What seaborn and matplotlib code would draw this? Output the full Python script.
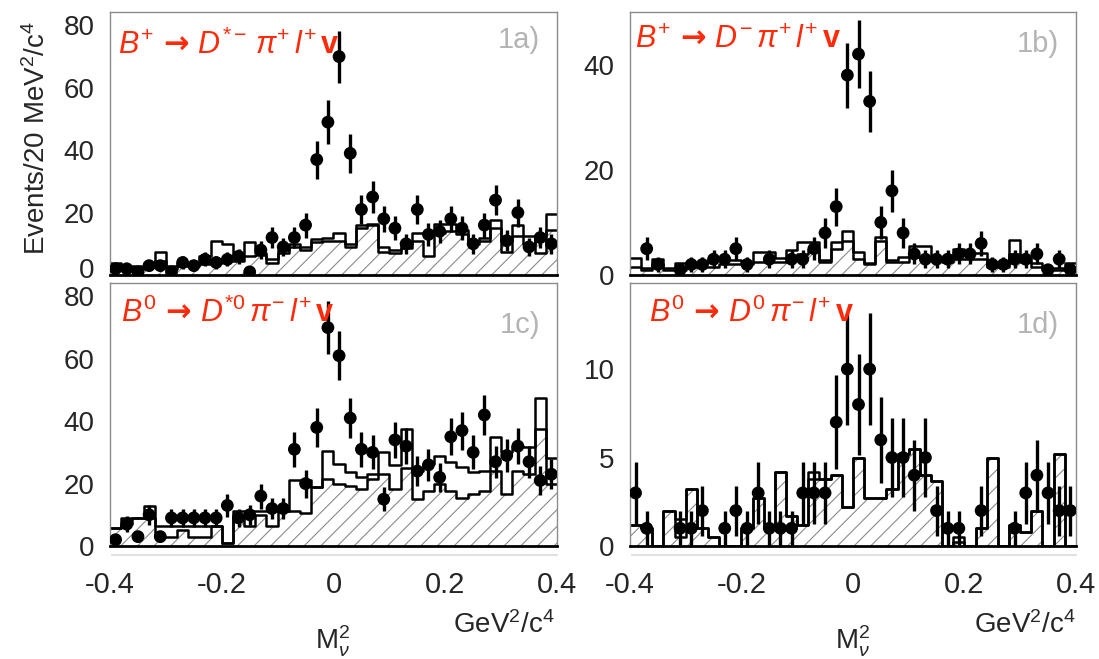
import numpy as np
import pandas as pd
import matplotlib
matplotlib.use("Agg")
import matplotlib.pyplot as plt
import matplotlib.transforms as mtransforms
import seaborn as sns
from matplotlib.ticker import MultipleLocator, FixedLocator

# binning of M_nu^2 (GeV^2/c^4)
x_lo, x_hi, n_bins = -0.4, 0.4, 40

# panel 1a : B+ -> D*- pi+ l+ nu
data_a = [2, 2, 1, 3, 3, 1, 4, 3, 5, 4, 5, 6, 1, 8, 12, 9, 12, 16, 37, 49,
          70, 39, 21, 25, 18, 15, 10, 21, 13, 14, 18, 15, 10, 16, 24, 11, 20, 9, 12, 10]
open_a = [4, 3, 3, 4, 7.5, 3, 4, 4, 6, 11, 10, 6.5, 10.5, 7, 5, 8, 10, 9, 11.5, 12,
          13.5, 10, 16, 16.5, 9, 8, 10, 13.5, 13, 16.5, 16.5, 14.5, 11, 12, 17.5, 7.5, 16, 12.5, 7, 19.5]
hatch_a = [2.5, 2.5, 2, 2.5, 4.5, 2, 3, 3, 3.5, 4, 4.5, 4.5, 6, 6.5, 4, 7, 9, 8, 10.5, 11,
           11, 9, 15, 16, 7.5, 7, 8.5, 11, 6, 13.5, 14, 13, 10, 11, 15, 11, 12.5, 10, 12.5, 14.5]

# panel 1b : B+ -> D- pi+ l+ nu
data_b = [0, 5, 2, 0, 1, 2, 2, 3, 3, 5, 2, 0, 3, 0, 3, 3, 5, 8, 13, 38,
          42, 33, 10, 16, 8, 4, 3, 3, 3, 4, 4, 6, 2, 2, 3, 3, 4, 1, 3, 1]
open_b = [3.2, 1.3, 3, 1.3, 2.3, 2.3, 2.3, 2.9, 2.9, 2.9, 2.3, 4.4, 4.4, 3.2, 4.8, 6.2, 6.3, 2.9, 6.3, 8.3,
          4.4, 2.3, 7.3, 2.9, 3.5, 5.5, 5.5, 3.5, 3.2, 4.9, 4.1, 4.1, 1.9, 1.9, 6.7, 3.2, 2.2, 1.3, 1.3, 2.3]
hatch_b = [1.5, 1, 2, 1, 1, 1.5, 1.5, 1.5, 2, 2, 2, 2.5, 2.5, 2.5, 3, 4, 5, 2.5, 5, 6.5,
           3, 2, 6.5, 2.5, 2.5, 3.5, 3.5, 3, 2.5, 3, 3, 3, 1.5, 1.5, 4, 2.5, 1.5, 1, 1, 1.5]

# panel 1c : B0 -> D*0 pi- l+ nu
data_c = [2, 7, 3, 10, 3, 9, 9, 9, 9, 9, 13, 9, 10, 16, 12, 12, 31, 20, 38, 70,
          61, 41, 31, 30, 15, 34, 32, 24, 26, 22, 35, 37, 30, 42, 27, 29, 32, 27, 21, 23]
open_c = [5.7, 9.1, 9.1, 12.7, 6.4, 6.4, 6.4, 6.4, 6.4, 6.4, 1.1, 11.3, 11.3, 11.3, 11.3, 11.3, 21.3, 21.3, 18.8, 30.6,
          26.3, 23.6, 22, 23, 30, 25.8, 37.6, 24, 26.3, 29, 26.9, 25.2, 23.6, 24, 34.9, 30, 32.2, 31.7, 47.5, 28.2]
hatch_c = [5.7, 7, 9.1, 9.1, 3, 3, 5, 3, 3, 6.4, 1.1, 10, 6.4, 10, 6.4, 11.3, 11.3, 10.7, 18.8, 21.5,
           19.8, 19.3, 18.2, 21.5, 23, 18.2, 25, 15, 17.7, 19.8, 17.7, 15.5, 16.6, 17.7, 24, 16.6, 24, 23, 37.6, 19.8]

# panel 1d : B0 -> D0 pi- l+ nu
data_d = [3, 1, 0, 0, 1, 1, 2, 0, 1, 2, 1, 3, 1, 1, 1, 3, 3, 3, 7, 10,
          8, 10, 6, 5, 5, 4, 5, 2, 1, 1, 0, 2, 0, 0, 1, 3, 4, 3, 2, 2]
open_d = [1.2, 1, 0, 2, 1.5, 3.2, 1, 0.5, 0, 0, 1, 2.7, 1, 4.2, 1.7, 1.2, 4.2, 3.8, 4, 2.2,
          5, 2.7, 2.7, 3.2, 5.2, 5.5, 4, 3.7, 0, 0.5, 0, 1, 5, 0, 1.2, 0.8, 2, 0, 5.2, 0]
hatch_d = [1.2, 1, 0, 2, 0.5, 3.2, 1, 0.5, 0, 0, 1, 2.7, 1, 4.2, 1.7, 1.2, 3.8, 3.8, 4, 2.2,
           5, 2.7, 2.7, 3.2, 5.2, 5.5, 4, 3.7, 0, 0.2, 0, 1, 5, 0, 1.2, 0.8, 2, 0, 5.2, 0]

decays = [r"$B^{+}\/\mathsf{\rightarrow}\/D^{*-}\,\pi^{+}\,l^{+}\,\mathbf{v}$",
          r"$B^{+}\/\mathsf{\rightarrow}\/D^{-}\,\pi^{+}\,l^{+}\,\mathbf{v}$",
          r"$B^{0}\/\mathsf{\rightarrow}\/D^{*0}\,\pi^{-}\,l^{+}\,\mathbf{v}$",
          r"$B^{0}\/\mathsf{\rightarrow}\/D^{0}\,\pi^{-}\,l^{+}\,\mathbf{v}$"]
tags = ["1a)", "1b)", "1c)", "1d)"]
y_max = [84.3, 50, 84.3, 14.87]
y_major = [20, 20, 20, 5]
y_minor = [5, 5, 5, 1]

sns.set_style("white")
plt.rcParams["font.family"] = ["Liberation Sans", "DejaVu Sans"]
plt.rcParams["mathtext.fontset"] = "custom"
plt.rcParams["mathtext.rm"] = "Liberation Sans"
plt.rcParams["mathtext.it"] = "Liberation Sans:italic"
plt.rcParams["mathtext.bf"] = "Liberation Sans:bold"
plt.rcParams["mathtext.sf"] = "DejaVu Sans:bold"
plt.rcParams["hatch.color"] = "#8a8a8a"
plt.rcParams["hatch.linewidth"] = 0.8

edges = np.linspace(x_lo, x_hi, n_bins + 1)
centers = 0.5 * (edges[:-1] + edges[1:])

fig = plt.figure(figsize=(10.99, 6.59), dpi=100)
rects = [[0.1001, 0.5827, 0.4067, 0.3991],
         [0.5732, 0.5827, 0.4058, 0.3991],
         [0.1001, 0.1715, 0.4067, 0.3991],
         [0.5732, 0.1715, 0.4058, 0.3991]]

all_data = [data_a, data_b, data_c, data_d]
all_open = [open_a, open_b, open_c, open_d]
all_hatch = [hatch_a, hatch_b, hatch_c, hatch_d]
decay_pos = [(0.018, 0.875), (0.011, 0.895), (0.025, 0.886), (0.042, 0.886)]
tag_pos = [(0.962, 0.894), (0.962, 0.88), (0.962, 0.84), (0.962, 0.84)]

hist_kws = dict(x="m2", bins=n_bins, binrange=(x_lo, x_hi), element="step")
axes = []

for k in range(4):
    ax = fig.add_axes(rects[k])
    axes.append(ax)
    df = pd.DataFrame({"m2": centers, "hatched": all_hatch[k], "open": all_open[k]})
    # hatched histogram
    sns.histplot(data=df, weights="hatched", fill=True, color="#8a8a8a",
                 facecolor="none", edgecolor="#8a8a8a", linewidth=0, hatch="//",
                 ax=ax, **hist_kws)
    sns.histplot(data=df, weights="hatched", fill=False, color="black",
                 linewidth=1.8, ax=ax, **hist_kws)
    # open histogram
    sns.histplot(data=df, weights="open", fill=False, color="black",
                 linewidth=1.8, ax=ax, **hist_kws)

    # data points
    d = np.array(all_data[k], dtype=float)
    m = d > 0
    ax.errorbar(centers[m], d[m], yerr=np.sqrt(d[m]), fmt="none", ecolor="black",
                elinewidth=2.4, capsize=0, zorder=4)
    sns.scatterplot(x=centers[m], y=d[m], color="black", s=85, edgecolor="none",
                    zorder=5, ax=ax)

    ax.set_xlim(x_lo, x_hi)
    ax.set_ylim(0, y_max[k])
    ax.set_xlabel("")
    ax.set_ylabel("")
    ax.yaxis.set_major_locator(MultipleLocator(y_major[k]))
    ax.yaxis.set_minor_locator(MultipleLocator(y_minor[k]))
    ax.xaxis.set_major_locator(FixedLocator([-0.4, -0.2, 0, 0.2, 0.4]))
    ax.xaxis.set_minor_locator(MultipleLocator(0.04))
    ax.tick_params(axis="y", which="major", direction="in", length=16, width=1,
                   color="#888888", labelsize=20, pad=11)
    ax.tick_params(axis="y", which="minor", direction="in", length=8, width=1,
                   color="#888888")
    ax.tick_params(axis="x", which="major", direction="in", length=9, width=1,
                   color="#888888", labelsize=21, pad=18)
    ax.tick_params(axis="x", which="minor", direction="in", length=7, width=1,
                   color="#888888")
    ax.yaxis.set_major_formatter(plt.FuncFormatter(lambda v, p: f"{v:g}"))
    if k < 2:
        ax.tick_params(axis="x", labelbottom=False)
    else:
        ax.xaxis.set_major_formatter(plt.FuncFormatter(lambda v, p: f"{v:g}"))
        ax.plot([0.005, 1.0], [-0.034, -0.034], transform=ax.transAxes,
                color="#e0e0e0", lw=1.5, clip_on=False)

    for side in ["top", "right", "left"]:
        ax.spines[side].set_color("#8c8c8c")
        ax.spines[side].set_linewidth(1.0)
    ax.spines["bottom"].set_color("black")
    ax.spines["bottom"].set_linewidth(2.0)

    ax.text(decay_pos[k][0], decay_pos[k][1], decays[k], transform=ax.transAxes,
            color="#ff2a0a", fontsize=22, ha="left", va="center", zorder=6)
    ax.text(tag_pos[k][0], tag_pos[k][1], tags[k], transform=ax.transAxes,
            color="#b4b4b4", fontsize=21, ha="right", va="center")

fig.text(0.034, 0.79, r"Events/20 MeV$^{2}$/c$^{4}$", rotation=90,
         ha="center", va="center", fontsize=20)
for xc_label in [0.4586, 0.9327]:
    fig.text(xc_label, 0.052, r"GeV$^{2}$/c$^{4}$", ha="center", va="center", fontsize=20)
for xc_m in [0.303, 0.776]:
    fig.text(xc_m, 0.027, r"M$_{\nu}^{2}$", ha="center", va="center", fontsize=20)

# the "0" of the upper-left panel sits just above the "80" of the panel below
fig.canvas.draw()
lift = mtransforms.ScaledTranslation(0, 5 / 72, fig.dpi_scale_trans)
for tick in axes[0].yaxis.get_major_ticks():
    if tick.label1.get_text() == "0":
        tick.label1.set_transform(tick.label1.get_transform() + lift)

fig.savefig("out.png", dpi=100)
